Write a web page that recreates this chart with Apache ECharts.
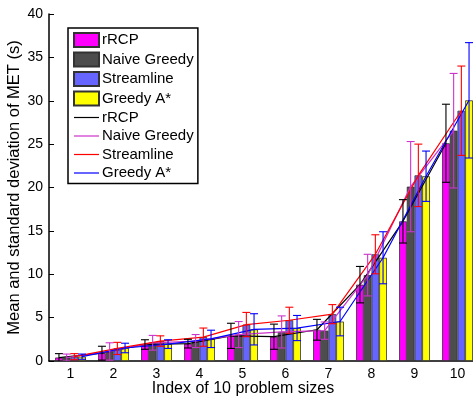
<!DOCTYPE html>
<html><head><meta charset="utf-8">
<script src="https://cdn.jsdelivr.net/npm/echarts@6/dist/echarts.min.js"></script>
<style>html,body{margin:0;padding:0;background:#fff}#c{width:473px;height:397px}</style>
</head><body><div id="c"></div>
<script>
const categories = ['1','2','3','4','5','6','7','8','9','10'];
const methods = ['rRCP','Naive Greedy','Streamline','Greedy A*'];
const rRCPMean = [0.4, 0.9, 1.9, 2.0, 2.9, 2.8, 3.6, 8.8, 16.1, 25.1];
const rRCPStd = [0.45, 0.8, 0.55, 0.5, 1.45, 1.45, 1.2, 2.1, 2.5, 4.5];
const naiveMean = [0.4, 1.1, 2.1, 2.3, 3.05, 3.35, 3.5, 9.9, 20.1, 26.55];
const naiveStd = [0.4, 1.0, 0.85, 0.75, 1.5, 1.85, 1.0, 2.4, 5.2, 6.6];
const streamMean = [0.5, 1.45, 2.3, 2.75, 4.2, 4.7, 5.4, 12.3, 21.4, 28.85];
const streamStd = [0.35, 0.7, 0.6, 1.05, 1.4, 1.5, 1.1, 2.25, 3.6, 5.15];
const astarMean = [0.5, 1.5, 1.95, 2.55, 3.65, 3.8, 4.55, 11.9, 21.3, 30.05];
const astarStd = [0.3, 0.55, 0.5, 1.0, 1.8, 1.45, 1.65, 3.0, 2.9, 6.65];
const yTicks = [0, 5, 10, 15, 20, 25, 30, 35, 40];

const barColors = ['#FF00FF', '#4D4D4D', '#6666FF', '#FFFF00'];
const lineColors = ['#000000', '#CC33CC', '#FF0000', '#0000FF'];
const means = [rRCPMean, naiveMean, streamMean, astarMean];
const stds = [rRCPStd, naiveStd, streamStd, astarStd];

const GRID_W = 430, BAR_W = 7.7;
const unitPx = GRID_W / categories.length;
const FONT = 'Liberation Sans, Arial, Helvetica, sans-serif';
const LINE_ICON = 'path://M0,6.4 L25,6.4 L25,7.6 L0,7.6 Z';

const series = [];
methods.forEach((m, k) => {
  series.push({
    name: m, type: 'bar', xAxisIndex: 0, yAxisIndex: 0,
    barWidth: BAR_W, barGap: '0%',
    itemStyle: { color: barColors[k], borderColor: '#333', borderWidth: 0.8 },
    data: means[k], z: 2
  });
});
methods.forEach((m, k) => {
  const off = (k - 1.5) * BAR_W / unitPx;
  series.push({
    name: m + ' ', type: 'line', xAxisIndex: 1, yAxisIndex: 0,
    symbol: 'none', lineStyle: { color: lineColors[k], width: 1.2 },
    itemStyle: { color: lineColors[k] },
    data: means[k].map((v, i) => [i + 1 + off, v]), z: 3
  });
});
methods.forEach((m, k) => {
  const off = (k - 1.5) * BAR_W / unitPx;
  const col = lineColors[k];
  series.push({
    name: 'err' + k, type: 'custom', xAxisIndex: 1, yAxisIndex: 0, clip: true, z: 4,
    data: means[k].map((v, i) => [i + 1 + off, v - stds[k][i], v + stds[k][i]]),
    renderItem: function (params, api) {
      const x = api.value(0);
      const t = api.coord([x, api.value(2)]);
      const b = api.coord([x, api.value(1)]);
      const hw = 4;
      const st = { stroke: col, lineWidth: 1.1 };
      return { type: 'group', children: [
        { type: 'line', shape: { x1: t[0], y1: t[1], x2: b[0], y2: b[1] }, style: st },
        { type: 'line', shape: { x1: t[0] - hw, y1: t[1], x2: t[0] + hw, y2: t[1] }, style: st },
        { type: 'line', shape: { x1: b[0] - hw, y1: b[1], x2: b[0] + hw, y2: b[1] }, style: st }
      ]};
    }
  });
});

const chart = echarts.init(document.getElementById('c'), null, { renderer: 'canvas' });
chart.setOption({
  animation: false,
  backgroundColor: '#fff',
  textStyle: { fontFamily: FONT },
  grid: { left: 49, top: 14, width: GRID_W, height: 347, containLabel: false, outerBoundsMode: 'none' },
  legend: {
    orient: 'vertical', left: 68, top: 28, padding: [4, 0, 3, 5],
    itemGap: 3.5, itemWidth: 25, itemHeight: 14, symbolKeepAspect: true,
    borderColor: '#000', borderWidth: 1.5, backgroundColor: '#fff',
    textStyle: { fontSize: 15, lineHeight: 14, color: '#000', fontFamily: FONT, padding: [0, 0, 0, -2] },
    data: methods.map(m => ({ name: m, icon: 'rect' })).concat(methods.map(m => ({ name: m + ' ', icon: LINE_ICON })))
  },
  xAxis: [{
    type: 'category', data: categories, gridIndex: 0,
    axisLine: { lineStyle: { color: '#000', width: 1.5 } },
    axisTick: { inside: true, alignWithLabel: true, length: 5, lineStyle: { color: '#000' } },
    axisLabel: { color: '#000', fontSize: 14, margin: 6, fontFamily: FONT },
    name: 'Index of 10 problem sizes', nameLocation: 'middle', nameGap: 20, nameMoveOverlap: false,
    nameTextStyle: { color: '#000', fontSize: 16, fontFamily: FONT, padding: [0, 42, 0, 0] }
  }, {
    type: 'value', min: 0.5, max: 10.5, gridIndex: 0, show: false
  }],
  yAxis: {
    type: 'value', min: 0, max: 40, interval: 5,
    axisLine: { show: true, lineStyle: { color: '#000', width: 1.5 } },
    axisTick: { show: true, inside: true, length: 5, lineStyle: { color: '#000' } },
    splitLine: { show: false },
    axisLabel: { color: '#000', fontSize: 14, margin: 6, fontFamily: FONT,
      formatter: v => (yTicks.indexOf(v) >= 0 ? String(v) : '') },
    name: 'Mean and standard deviation of MET (s)', nameLocation: 'middle', nameGap: 26, nameMoveOverlap: false,
    nameTextStyle: { color: '#000', fontSize: 16.5, fontFamily: FONT }
  },
  series: series
});
</script></body></html>
